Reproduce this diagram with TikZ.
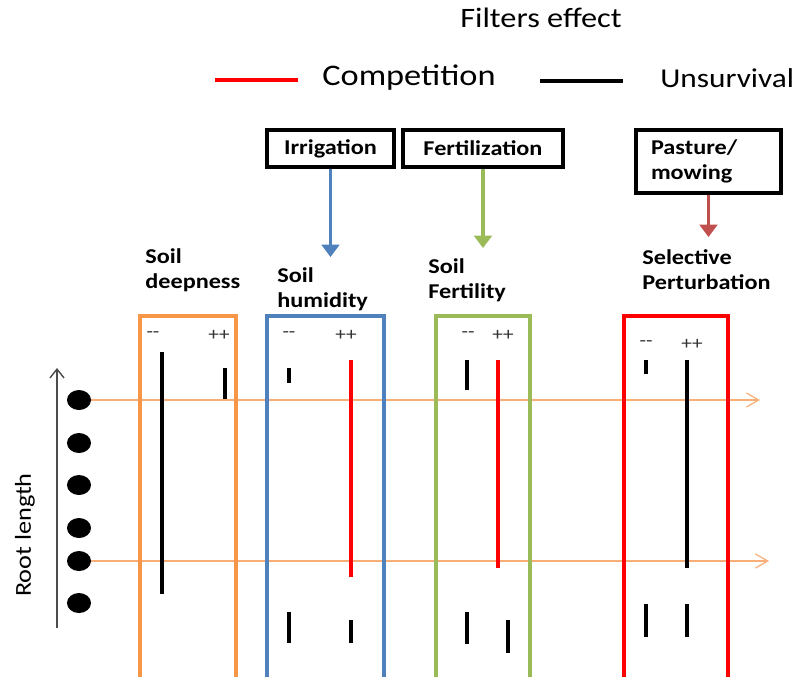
\documentclass[tikz,border=0pt]{standalone}
\usepackage{fontspec}
\setmainfont{Carlito}[FakeStretch=1.15]
\usetikzlibrary{arrows.meta, shapes.geometric, positioning}

\definecolor{boxorange}{HTML}{F79646}
\definecolor{lineorange}{HTML}{F9AE78}
\definecolor{boxblue}{HTML}{4F81BD}
\definecolor{boxgreen}{HTML}{9BBB59}
\definecolor{arrowred}{HTML}{C0504D}

\begin{document}
\begin{tikzpicture}[x=0.02cm, y=-0.02cm,
  filterbox/.style={draw=black, line width=2pt, inner sep=0pt, font=\bfseries\fontsize{12}{14.5}\selectfont},
  soiltext/.style={anchor=west, align=left, inner sep=0pt, font=\bfseries\fontsize{12}{14.5}\selectfont},
  sign/.style={inner sep=0pt, text=black!80, font=\fontsize{10.5}{12}\selectfont},
  frame/.style={line width=2pt, line join=miter},
  bar/.style={line width=2.2pt},
  dot/.style={ellipse, fill=black, minimum width=0.48cm, minimum height=0.4cm, inner sep=0pt},
  level/.style={draw=lineorange, line width=0.7pt, -{Straight Barb[length=7pt,width=8pt]}},
  filterarrow/.style={line width=2pt, -{Triangle[length=7pt,width=10pt]}}]
  \useasboundingbox (0,0) rectangle (802,677);

  % Title and legend
  \node[inner sep=0pt, font=\fontsize{16}{18}\selectfont] (title) at (541,18) {Filters effect};
  \node[anchor=west, inner sep=0pt, font=\fontsize{17}{20}\selectfont] (comp) at (322,78) {Competition};
  \node[anchor=west, inner sep=0pt, font=\fontsize{15.5}{18}\selectfont] (unsurv) at (660,78) {Unsurvival};
  \draw[red, line width=2pt] (215,80) -- (298,80);
  \draw[black, line width=2.2pt] (540,81) -- (623,81);

  % Management filters
  \node[filterbox, minimum width=2.54cm, minimum height=0.74cm] (irrig) at (330.5,148.5) {Irrigation};
  \node[filterbox, minimum width=3.2cm, minimum height=0.74cm] (fert) at (483,148.5) {Fertilization};
  \node[filterbox, minimum width=2.9cm, minimum height=1.26cm, text width=2.3cm, align=left] (past) at (708.5,161.5) {Pasture/\\mowing};

  \coordinate (irrig-end) at (irrig.south |- 0,257);
  \coordinate (fert-end) at (fert.south |- 0,248);
  \coordinate (past-end) at (past.south |- 0,237);
  \draw[filterarrow, boxblue] (irrig) -- (irrig-end);
  \draw[filterarrow, boxgreen] (fert) -- (fert-end);
  \draw[filterarrow, arrowred] (past) -- (past-end);

  % Environmental filters
  \node[soiltext] (deep) at (145,270.5) {Soil\\deepness};
  \node[soiltext] (humid) at (277,289.5) {Soil\\humidity};
  \node[soiltext] (fertil) at (428,280.5) {Soil\\Fertility};
  \node[soiltext] (pert) at (642,269.5) {Selective\\Perturbation};

  % Root length axis
  \node[rotate=90, inner sep=0pt, font=\fontsize{13}{15}\selectfont] (rootlen) at (25,535) {Root length};
  \coordinate (axis-bot) at (57,628);
  \coordinate (axis-top) at (57,368);
  \draw[black!70, line width=0.8pt, -{Straight Barb[length=5pt,width=8pt]}] (axis-bot) -- (axis-top);

  \foreach \y [count=\i] in {400,443,485,528,561,603}
    \node[dot] (d\i) at (79,\y) {};

  \coordinate (lvl-a) at (760,400);
  \coordinate (lvl-b) at (769,561);
  \draw[level] (d1.east) -- (lvl-a);
  \draw[level] (d5.east) -- (lvl-b);

  % Columns
  \foreach \xa/\xb/\col in {140/236/boxorange, 267/384/boxblue, 436/530/boxgreen, 624/728/red}
    \draw[frame, \col] (\xa,677) -- (\xa,316) -- (\xb,316) -- (\xb,677);

  \foreach \x/\y [count=\i] in {153/335, 289/335, 468/335, 646/344}
    \node[sign] (minus\i) at (\x,\y) {-{}-};
  \foreach \x/\y [count=\i] in {219/335, 346/335, 503/335, 692/344}
    \node[sign] (plus\i) at (\x,\y) {++};

  % Ranges per column
  \foreach \x/\ya/\yb/\col in {162/352/594/black, 225/368/399/black,
      289/368/383/black, 351/360/577/red, 289/612/643/black, 351/620/643/black,
      467/360/390/black, 498/360/568/red, 467/612/644/black, 508/620/653/black,
      646/360/374/black, 687/360/568/black, 646/604/637/black, 687/604/637/black}
    \draw[bar, \col] (\x,\ya) -- (\x,\yb);
\end{tikzpicture}
\end{document}
